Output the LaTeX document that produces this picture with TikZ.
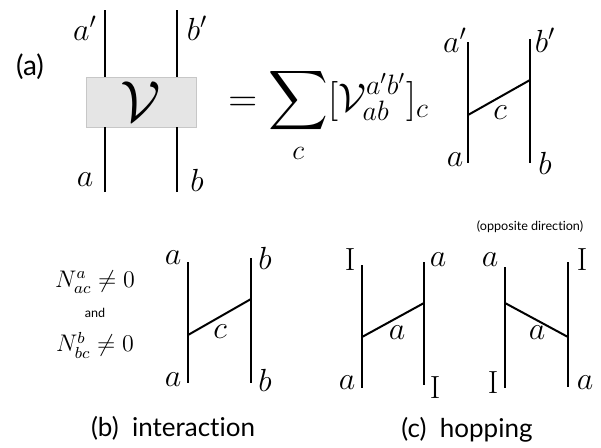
\RequirePackage{fix-cm}
\documentclass[tikz,border=0pt]{standalone}
\usepackage{fontspec}
\setsansfont{Lato}[Ligatures=NoCommon]
\usepackage{amsmath}
\begin{document}
\begin{tikzpicture}[x=0.5pt,y=-0.5pt,
    wire/.style={line width=1pt},
    lbl/.style={inner sep=0pt,font=\fontsize{16}{18}\selectfont},
    vbox/.style={draw=black!22,fill=black!10,minimum width=55pt,minimum height=25pt,
      inner sep=0pt,font=\fontsize{29}{31}\selectfont},
    caption/.style={inner sep=0pt,font=\sffamily\fontsize{13}{15}\selectfont},
    note/.style={inner sep=0pt,font=\sffamily\fontsize{6.3}{8}\selectfont}]
    \useasboundingbox (0,0) rectangle (601,447);

    % (a) the box and its four legs
    \node[caption,font=\sffamily\fontsize{14}{16}\selectfont] (capA) at (30,67) {(a)};
    \node[vbox] (V) at (141,102) {$\mathcal{V}$};
    \coordinate (aTop) at (105,10);
    \coordinate (aBot) at (105,192);
    \coordinate (bTop) at (177,10);
    \coordinate (bBot) at (177,192);
    \draw[wire] (aTop) -- (aTop |- V.north);
    \draw[wire] (aBot) -- (aBot |- V.south);
    \draw[wire] (bTop) -- (bTop |- V.north);
    \draw[wire] (bBot) -- (bBot |- V.south);
    \node[lbl] (lA1) at (85,28) {$a'$};
    \node[lbl] (lB1) at (197,28) {$b'$};
    \node[lbl] (lA2) at (85,180) {$a$};
    \node[lbl] (lB2) at (197,180) {$b$};

    % the sum
    \node[inner sep=0pt,anchor=base west,font=\fontsize{20}{24}\selectfont] (sum)
      at (228,111) {$\displaystyle =\sum_c[\mathcal{V}^{a'b'}_{ab}]_c$};

    % (a) right hand side
    \coordinate (rL1) at (468,42);  \coordinate (rL2) at (468,163);
    \coordinate (rR1) at (530,39);  \coordinate (rR2) at (530,163);
    \coordinate (rC1) at (468,115); \coordinate (rC2) at (530,80);
    \draw[wire] (rL1) -- (rL2);
    \draw[wire] (rR1) -- (rR2);
    \draw[wire] (rC1) -- (rC2);
    \node[lbl] (rc) at (500,113) {$c$};
    \node[lbl] (rA1) at (455,40) {$a'$};
    \node[lbl] (rB1) at (545,40) {$b'$};
    \node[lbl] (rA2) at (455,160) {$a$};
    \node[lbl] (rB2) at (545,163) {$b$};

    % (b) interaction
    \node[inner sep=0pt,font=\fontsize{12}{14}\selectfont] (nA) at (95,282) {$N^a_{ac}\neq 0$};
    \node[note] (and) at (95,313) {and};
    \node[inner sep=0pt,font=\fontsize{12}{14}\selectfont] (nB) at (95,345) {$N^b_{bc}\neq 0$};
    \coordinate (iL1) at (188,262); \coordinate (iL2) at (188,383);
    \coordinate (iR1) at (251,258); \coordinate (iR2) at (251,383);
    \coordinate (iC1) at (188,335); \coordinate (iC2) at (251,299);
    \draw[wire] (iL1) -- (iL2);
    \draw[wire] (iR1) -- (iR2);
    \draw[wire] (iC1) -- (iC2);
    \node[lbl] (ic) at (220,332) {$c$};
    \node[lbl] (iA1) at (173,258) {$a$};
    \node[lbl] (iB1) at (265,258) {$b$};
    \node[lbl] (iA2) at (173,380) {$a$};
    \node[lbl] (iB2) at (265,380) {$b$};
    \node[caption] (capB) at (173,428) {(b)\ \ interaction};

    % (c) hopping, both directions
    \node[note] (opp) at (530,227) {(opposite direction)};
    \coordinate (hL1) at (362,265); \coordinate (hL2) at (362,388);
    \coordinate (hR1) at (424,262); \coordinate (hR2) at (424,385);
    \coordinate (hC1) at (362,337); \coordinate (hC2) at (424,303);
    \draw[wire] (hL1) -- (hL2);
    \draw[wire] (hR1) -- (hR2);
    \draw[wire] (hC1) -- (hC2);
    \node[lbl] (ha) at (397,333) {$a$};
    \node[lbl] (hI1) at (350,260) {$\mathrm{I}$};
    \node[lbl] (hA1) at (438,260) {$a$};
    \node[lbl] (hA2) at (347,383) {$a$};
    \node[lbl] (hI2) at (435,388) {$\mathrm{I}$};

    \coordinate (oL1) at (505,267); \coordinate (oL2) at (505,388);
    \coordinate (oR1) at (568,262); \coordinate (oR2) at (568,387);
    \coordinate (oC1) at (505,303); \coordinate (oC2) at (568,337);
    \draw[wire] (oL1) -- (oL2);
    \draw[wire] (oR1) -- (oR2);
    \draw[wire] (oC1) -- (oC2);
    \node[lbl] (oa) at (537,333) {$a$};
    \node[lbl] (oA1) at (490,260) {$a$};
    \node[lbl] (oI1) at (582,260) {$\mathrm{I}$};
    \node[lbl] (oI2) at (493,383) {$\mathrm{I}$};
    \node[lbl] (oA2) at (585,383) {$a$};
    \node[caption] (capC) at (467,430) {(c)\ \ hopping};
\end{tikzpicture}
\end{document}
